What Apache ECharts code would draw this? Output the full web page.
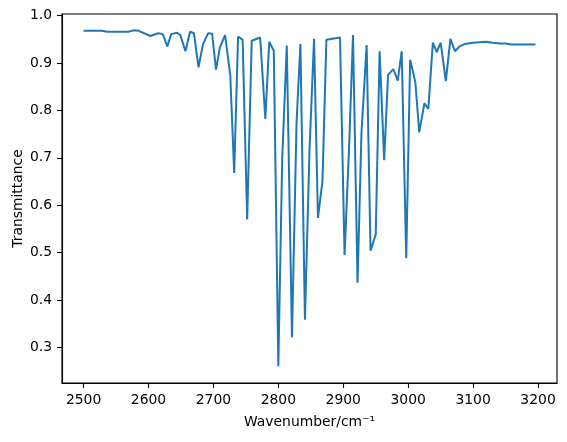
<!DOCTYPE html>
<html>
<head>
<meta charset="utf-8">
<script src="https://cdn.jsdelivr.net/npm/echarts@6/dist/echarts.min.js"></script>
<style>
  html, body { margin: 0; padding: 0; background: #fff; }
  #chart { width: 567px; height: 442px; }
</style>
</head>
<body>
<div id="chart"></div>
<script>
// spectrum
const wavenumbers = [
  2500, 2528, 2536, 2569, 2577, 2585, 2603, 2615, 2622, 2629, 2635, 2644, 2649, 2657,
  2664, 2670, 2677, 2684, 2692, 2698, 2704, 2710, 2718, 2726, 2732, 2738, 2745, 2752,
  2759, 2772, 2780, 2786, 2793, 2800, 2806, 2813, 2821, 2828, 2834, 2841, 2848, 2855,
  2861, 2868, 2874, 2895, 2902, 2909, 2915, 2922, 2928, 2936, 2942, 2950, 2956, 2963,
  2969, 2977, 2984, 2990, 2997, 3003, 3011, 3017, 3025, 3031, 3038, 3044, 3050, 3058,
  3065, 3072, 3079, 3087, 3100, 3110, 3120, 3130, 3141, 3150, 3159, 3196
];
const transmittance = [
  0.968, 0.968, 0.966, 0.966, 0.969, 0.968, 0.957, 0.963, 0.961, 0.935, 0.961, 0.964, 0.959, 0.925,
  0.966, 0.963, 0.891, 0.940, 0.963, 0.962, 0.886, 0.933, 0.959, 0.874, 0.668, 0.956, 0.949, 0.570,
  0.947, 0.954, 0.782, 0.945, 0.926, 0.260, 0.700, 0.937, 0.321, 0.773, 0.940, 0.358, 0.716, 0.951,
  0.573, 0.651, 0.949, 0.954, 0.495, 0.723, 0.959, 0.436, 0.751, 0.938, 0.504, 0.538, 0.925, 0.695,
  0.875, 0.887, 0.863, 0.925, 0.488, 0.907, 0.860, 0.754, 0.815, 0.803, 0.943, 0.923, 0.943, 0.862,
  0.951, 0.925, 0.935, 0.940, 0.943, 0.944, 0.945, 0.943, 0.941, 0.941, 0.939, 0.939
];
const xTicks = [2500, 2600, 2700, 2800, 2900, 3000, 3100, 3200];
const yTicks = [0.3, 0.4, 0.5, 0.6, 0.7, 0.8, 0.9, 1.0];

const chart = echarts.init(document.getElementById('chart'));

const font = 'DejaVu Sans';
const fs = 13.9;

const option = {
  animation: false,
  grid: {
    left: 62, right: 10, top: 14, bottom: 59,
    outerBoundsMode: 'none',
    show: true, borderColor: '#000', borderWidth: 1.1
  },
  xAxis: {
    type: 'value',
    min: 2466.8,
    max: 3229.2,
    name: 'Wavenumber/cm\u207B\u00B9',
    nameLocation: 'middle',
    nameGap: 32,
    nameTextStyle: { color: '#000', fontFamily: font, fontSize: fs },
    splitLine: { show: false },
    axisLine: { show: true, onZero: false, lineStyle: { color: '#000', width: 1.1 } },
    axisTick: { show: true, length: 5, customValues: xTicks, lineStyle: { color: '#000', width: 1.1 } },
    axisLabel: {
      customValues: xTicks, margin: 10, color: '#000', fontFamily: font, fontSize: fs,
      formatter: (v) => String(v)
    }
  },
  yAxis: {
    type: 'value',
    min: 0.2246,
    max: 1.0035,
    name: 'Transmittance',
    nameLocation: 'middle',
    nameRotate: 90,
    nameGap: 37,
    nameMoveOverlap: false,
    nameTextStyle: { color: '#000', fontFamily: font, fontSize: fs },
    splitLine: { show: false },
    axisLine: { show: true, onZero: false, lineStyle: { color: '#000', width: 1.1 } },
    axisTick: { show: true, length: 5, customValues: yTicks, lineStyle: { color: '#000', width: 1.1 } },
    axisLabel: {
      customValues: yTicks, margin: 10, color: '#000', fontFamily: font, fontSize: fs,
      formatter: (v) => v.toFixed(1)
    }
  },
  series: [{
    type: 'line',
    data: wavenumbers.map((w, i) => [w, transmittance[i]]),
    showSymbol: false,
    lineStyle: { color: '#1f77b4', width: 2 },
    itemStyle: { color: '#1f77b4' }
  }]
};

chart.setOption(option);
</script>
</body>
</html>
